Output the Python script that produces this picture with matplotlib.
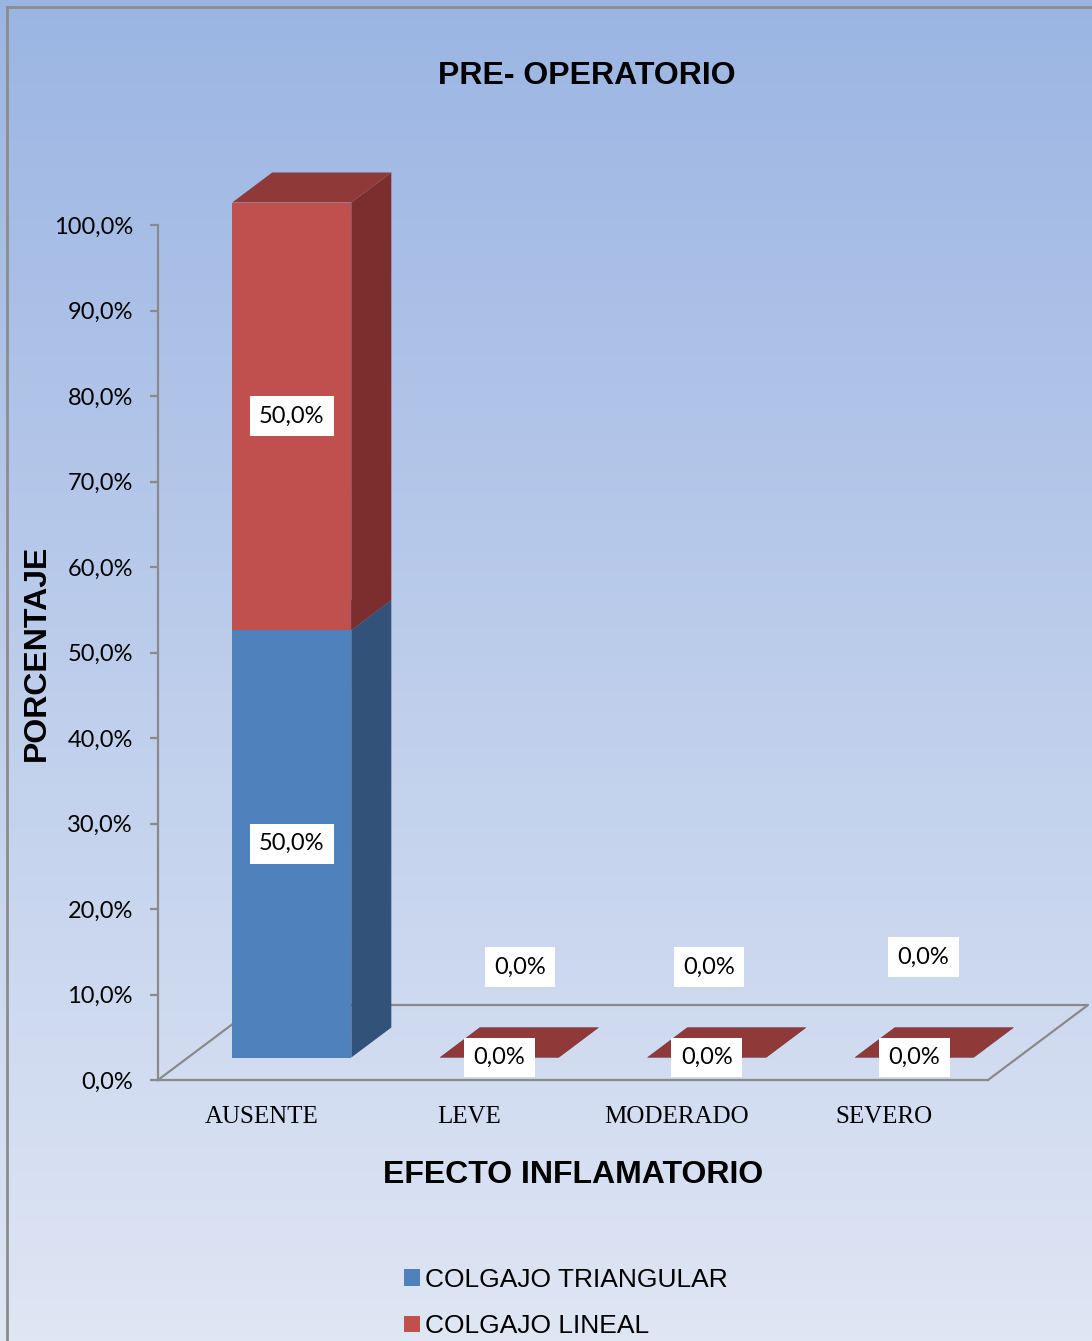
import matplotlib
matplotlib.use("Agg")
import matplotlib.pyplot as plt
import numpy as np
from matplotlib.patches import Polygon, Patch
from matplotlib.lines import Line2D

categorias = ["AUSENTE", "LEVE", "MODERADO", "SEVERO"]
series = ["COLGAJO TRIANGULAR", "COLGAJO LINEAL"]
triangular = [50.0, 0.0, 0.0, 0.0]
lineal = [50.0, 0.0, 0.0, 0.0]
yticks = [0, 10, 20, 30, 40, 50, 60, 70, 80, 90, 100]

# colores: cara frontal, lateral, superior
col_tri = ("#4F81BD", "#325279", "#3F6AA0")
col_lin = ("#C0504D", "#7B2E2D", "#8F3A38")

W, H = 1092, 1341
fig = plt.figure(figsize=(W / 100, H / 100), dpi=100)

# fondo degradado
bg = fig.add_axes([0, 0, 1, 1], zorder=-10)
grad = np.linspace(0, 1, 256)[:, None]
top = np.array([155, 181, 227]) / 255
bot = np.array([223, 230, 244]) / 255
img = top[None, None, :] * (1 - grad[:, :, None]) + bot[None, None, :] * grad[:, :, None]
bg.imshow(img, aspect="auto", extent=[0, 1, 0, 1])
bg.axis("off")

# marco
fig.add_artist(Line2D([7 / W, 7 / W], [0, 1 - 7 / H], transform=fig.transFigure, color="#8c8c8c", lw=2))
fig.add_artist(Line2D([7 / W, 1], [1 - 7 / H, 1 - 7 / H], transform=fig.transFigure, color="#8c8c8c", lw=2))

ax = fig.add_axes([158 / W, (H - 1080) / H, 830 / W, 855 / H])
ax.set_facecolor("none")
ax.set_xlim(0, 4)
ax.set_ylim(0, 100)

# profundidad de la vista 3D (en unidades de datos)
DX, DY = 0.482, 8.77
d0, d1 = 0.3, 0.7
half = 0.287


def proj(x, y, d):
    return (x + d * DX, y + d * DY)


gris = "#8a8a8a"
for s in ["top", "right"]:
    ax.spines[s].set_visible(False)
ax.spines["left"].set_color(gris)
ax.spines["bottom"].set_color(gris)
ax.spines["left"].set_linewidth(1.6)
ax.spines["bottom"].set_linewidth(1.6)

# piso
floor = [proj(0, 0, 1), proj(4, 0, 1), proj(4, 0, 0)]
ax.plot([0, floor[0][0]], [0, floor[0][1]], color=gris, lw=1.6, clip_on=False, zorder=1)
ax.plot([p[0] for p in floor], [p[1] for p in floor], color=gris, lw=1.6, clip_on=False, zorder=1)

ax.set_yticks(yticks)
ax.set_yticklabels([f"{v:.1f}".replace(".", ",") + "%" for v in yticks],
                   fontsize=17, family="Lato")
ax.tick_params(axis="y", direction="out", length=6, width=1.6, color=gris, pad=12)
ax.set_xticks(np.arange(len(categorias)) + 0.5)
ax.set_xticklabels(categorias, fontsize=18, family="Liberation Serif")
ax.tick_params(axis="x", length=0, pad=19)


def caja(x, base, alto, colores):
    cf, cs, ct = colores
    x0, x1 = x - half, x + half
    y0, y1 = base, base + alto
    frente = [proj(x0, y0, d0), proj(x1, y0, d0), proj(x1, y1, d0), proj(x0, y1, d0)]
    lado = [proj(x1, y0, d0), proj(x1, y0, d1), proj(x1, y1, d1), proj(x1, y1, d0)]
    tapa = [proj(x0, y1, d0), proj(x1, y1, d0), proj(x1, y1, d1), proj(x0, y1, d1)]
    for pts, c in [(frente, cf), (lado, cs), (tapa, ct)]:
        ax.add_patch(Polygon(pts, closed=True, facecolor=c, edgecolor="none",
                             clip_on=False, zorder=3))


def etiqueta(x, y, v):
    ax.text(x, y, f"{v:.1f}".replace(".", ",") + "%", ha="center", va="center",
            fontsize=17, family="Lato", zorder=5, clip_on=False,
            bbox=dict(boxstyle="square,pad=0.4", fc="white", ec="none"))


# desplazamiento de las etiquetas de valor cero de la serie superior
off_x = [0.0, 0.10, 0.01, 0.045]
off_y = [0.0, 13.2, 13.2, 14.4]

for i in range(len(categorias)):
    xc = i + 0.5
    caja(xc, 0, triangular[i], col_tri)
    caja(xc, triangular[i], lineal[i], col_lin)
    xf = xc + d0 * DX
    etiqueta(xf, triangular[i] / 2 + d0 * DY, triangular[i])
    if lineal[i] > 0:
        etiqueta(xf, triangular[i] + lineal[i] / 2 + d0 * DY, lineal[i])
    else:
        etiqueta(xf + off_x[i], triangular[i] + off_y[i], lineal[i])

ax.set_ylabel("PORCENTAJE", fontsize=23, fontweight="bold", family="Liberation Sans")
ax.yaxis.set_label_coords((37 - 158) / 830, 0.5)
ax.yaxis.label.set_va("center")
ax.set_xlabel("EFECTO INFLAMATORIO", fontsize=23, fontweight="bold", family="Liberation Sans")
ax.xaxis.set_label_coords(0.5, (1080 - 1175) / 855)
ax.xaxis.label.set_va("center")

fig.text(587 / W, 1 - 76 / H, "PRE- OPERATORIO", ha="center", va="center",
         fontsize=23, fontweight="bold", family="Liberation Sans")

handles = [Patch(facecolor=col_tri[0]), Patch(facecolor=col_lin[0])]
fig.legend(handles, series, loc="center", bbox_to_anchor=(566 / W, 1 - 1303 / H),
           frameon=False, prop={"family": "Liberation Sans", "size": 19},
           handlelength=0.6, handleheight=0.6, handletextpad=0.2, labelspacing=0.85)

fig.savefig("out.png", dpi=100)
